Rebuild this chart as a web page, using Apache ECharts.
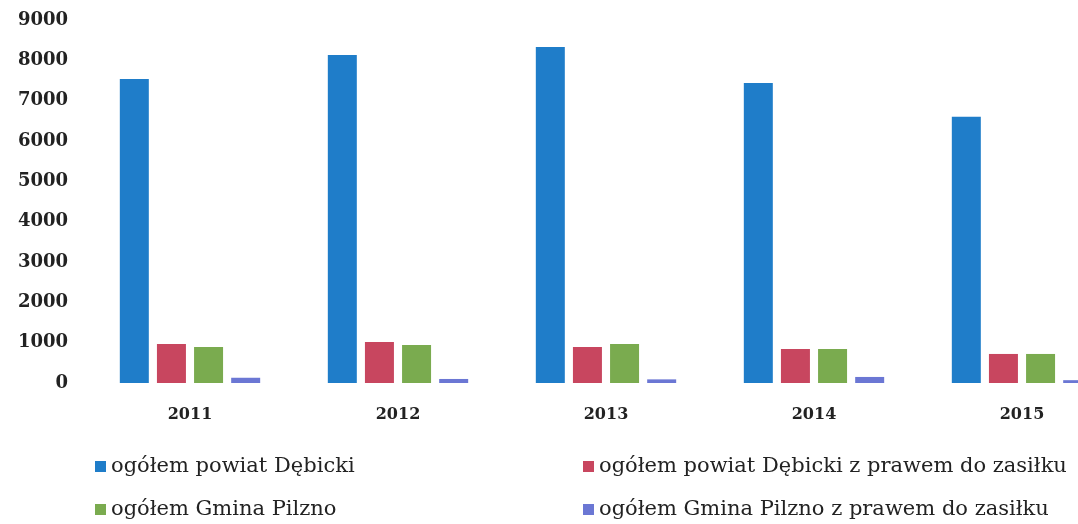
<!DOCTYPE html>
<html>
<head>
<meta charset="utf-8">
<script src="https://cdn.jsdelivr.net/npm/echarts@6/dist/echarts.min.js"></script>
<style>
html, body { margin: 0; padding: 0; background: #fff; }
#main { width: 1078px; height: 524px; }
</style>
</head>
<body>
<div id="main"></div>
<script>
let years = ['2011', '2012', '2013', '2014', '2015'];
let seriesNames = [
    'ogółem powiat Dębicki',
    'ogółem powiat Dębicki z prawem do zasiłku',
    'ogółem Gmina Pilzno',
    'ogółem Gmina Pilzno z prawem do zasiłku'
];
let powiatTotal = [7540, 8130, 8330, 7440, 6600];
let powiatZasilek = [970, 1015, 890, 840, 720];
let gminaTotal = [890, 940, 965, 840, 720];
let gminaZasilek = [130, 100, 90, 150, 70];
let yTicks = [0, 1000, 2000, 3000, 4000, 5000, 6000, 7000, 8000, 9000];

let colors = ['#1f7dc9', '#c8465f', '#7aab4f', '#6b77d4'];
let allData = [powiatTotal, powiatZasilek, gminaTotal, gminaZasilek];
let serifFont = '"DejaVu Serif", "Liberation Serif", serif';

let series = [];
for (let i = 0; i < seriesNames.length; i++) {
    series.push({
        name: seriesNames[i],
        type: 'bar',
        data: allData[i],
        barWidth: 29,
        barGap: '28%',
        itemStyle: { color: colors[i] }
    });
}

let legendText = { fontFamily: serifFont, fontSize: 21, color: '#222' };

let option = {
    backgroundColor: '#fff',
    animation: false,
    color: colors,
    // the plot runs past the right edge of the picture
    grid: { left: 86, width: 1040, top: 20, height: 363, outerBoundsMode: 'none' },
    legend: [
        {
            orient: 'vertical', left: 95, top: 456, height: 80, padding: 0,
            itemGap: 22, itemWidth: 11, itemHeight: 11, icon: 'rect',
            data: [seriesNames[0], seriesNames[2]],
            textStyle: legendText
        },
        {
            orient: 'vertical', left: 583, top: 456, height: 80, padding: 0,
            itemGap: 22, itemWidth: 11, itemHeight: 11, icon: 'rect',
            data: [seriesNames[1], seriesNames[3]],
            textStyle: legendText
        }
    ],
    xAxis: {
        type: 'category',
        data: years,
        axisLine: { show: false },
        axisTick: { show: false },
        axisLabel: {
            margin: 24, color: '#222', fontFamily: serifFont,
            fontSize: 16, fontWeight: 'bold'
        }
    },
    yAxis: {
        type: 'value',
        min: yTicks[0],
        max: yTicks[yTicks.length - 1],
        interval: 1000,
        splitLine: { show: false },
        axisLine: { show: false },
        axisLabel: {
            margin: 18, color: '#222', fontFamily: serifFont,
            fontSize: 18, fontWeight: 'bold',
            formatter: function (v) { return String(v); }
        }
    },
    series: series
};

let myChart = echarts.init(document.getElementById('main'));
myChart.setOption(option, true);
</script>
</body>
</html>
